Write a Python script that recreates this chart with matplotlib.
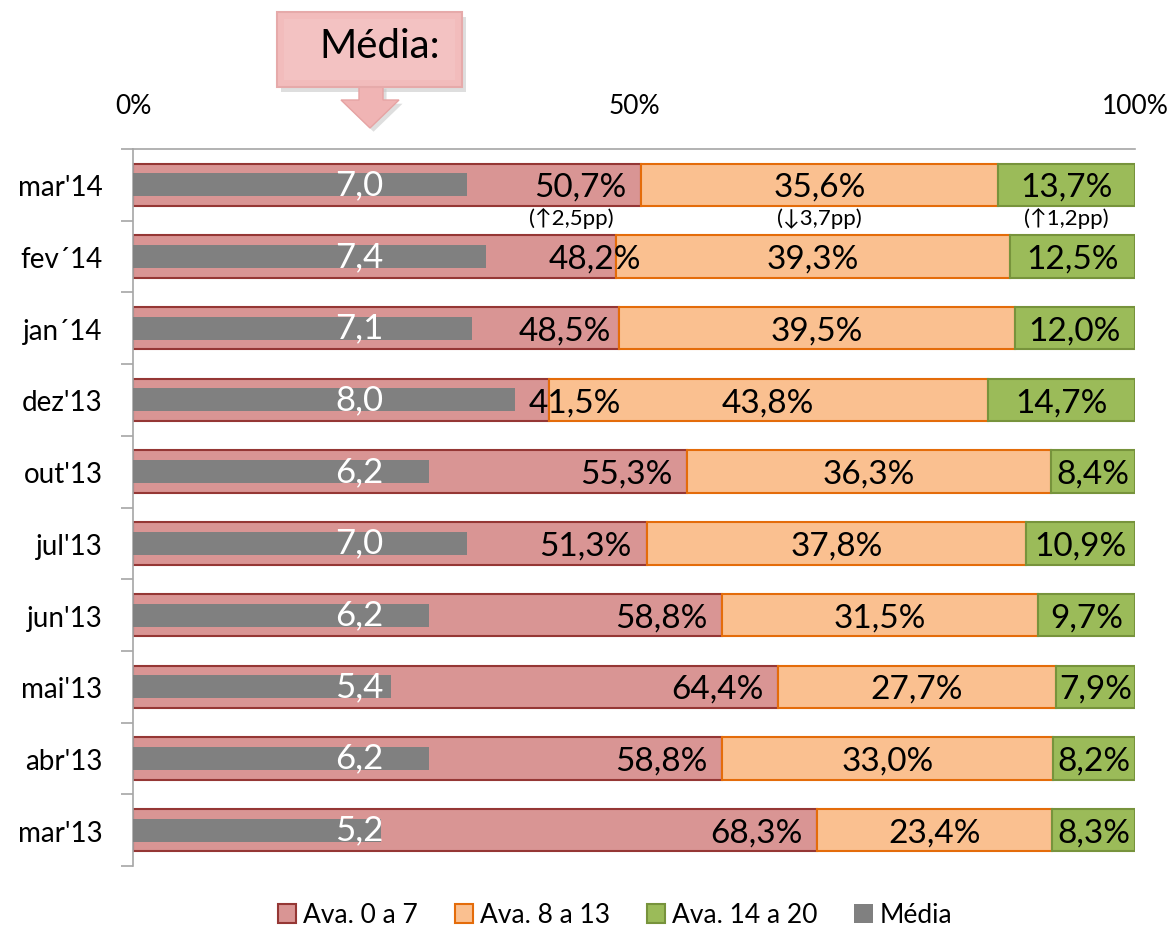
import matplotlib
matplotlib.use("Agg")
import matplotlib.pyplot as plt
from matplotlib.patches import Rectangle, Polygon
from matplotlib.ticker import FixedLocator

plt.rcParams['font.family'] = ['Lato', 'DejaVu Sans']

# ---------------- data ----------------
months = ["mar'14", "fev´14", "jan´14", "dez'13", "out'13",
          "jul'13", "jun'13", "mai'13", "abr'13", "mar'13"]
ava_0_7 = [50.7, 48.2, 48.5, 41.5, 55.3, 51.3, 58.8, 64.4, 58.8, 68.3]
ava_8_13 = [35.6, 39.3, 39.5, 43.8, 36.3, 37.8, 31.5, 27.7, 33.0, 23.4]
ava_14_20 = [13.7, 12.5, 12.0, 14.7, 8.4, 10.9, 9.7, 7.9, 8.2, 8.3]
media = [7.0, 7.4, 7.1, 8.0, 6.2, 7.0, 6.2, 5.4, 6.2, 5.2]
variation = ["(↑2,5pp)", "(↓3,7pp)", "(↑1,2pp)"]
x_ticks = [0, 50, 100]
x_tick_labels = ["0%", "50%", "100%"]
legend_labels = ["Ava. 0 a 7", "Ava. 8 a 13", "Ava. 14 a 20", "Média"]

# style
c_red, e_red = "#D99594", "#953735"
c_org, e_org = "#FAC090", "#E46C0A"
c_grn, e_grn = "#9BBB59", "#77933C"
c_gray = "#808080"
red_label_shift = {1: 4.0, 2: 0.7, 3: 8.7}   # manual label nudges (as in original)

def fmt(v):
    return f"{v:.1f}".replace(".", ",")

fig = plt.figure(figsize=(11.73, 9.29), dpi=100)
ax = fig.add_axes([133/1173, 1-867/929, 1002/1173, 717/929])

y = list(range(len(months)))
bh = 0.59
ax.barh(y, ava_0_7, height=bh, color=c_red, edgecolor=e_red, linewidth=1.5, zorder=2)
left2 = ava_0_7
ax.barh(y, ava_8_13, left=left2, height=bh, color=c_org, edgecolor=e_org, linewidth=1.5, zorder=2)
left3 = [a + b for a, b in zip(ava_0_7, ava_8_13)]
ax.barh(y, ava_14_20, left=left3, height=bh, color=c_grn, edgecolor=e_grn, linewidth=1.5, zorder=2)

ax.set_xlim(0, 100)
ax.set_ylim(len(months) - 0.5, -0.5)

ax2 = ax.twiny()
ax2.barh(y, media, height=0.32, color=c_gray, zorder=3)
ax2.set_xlim(0, 21)
ax2.set_ylim(len(months) - 0.5, -0.5)
ax2.axis('off')

# labels
for i in y:
    r = ava_0_7[i] - 1.5 + red_label_shift.get(i, 0)
    ax2.text(r, i + 0.03, fmt(ava_0_7[i]) + "%", transform=ax.transData,
             ha='right', va='center', fontsize=24, color='black', zorder=5)
    ax2.text(ava_0_7[i] + ava_8_13[i] / 2, i + 0.03, fmt(ava_8_13[i]) + "%",
             transform=ax.transData, ha='center', va='center', fontsize=24, zorder=5)
    ax2.text(left3[i] + ava_14_20[i] / 2, i + 0.03, fmt(ava_14_20[i]) + "%",
             transform=ax.transData, ha='center', va='center', fontsize=24, zorder=5)
    ax2.text(0.226 * 21, i - 0.01, fmt(media[i]), ha='center', va='center',
             fontsize=25, color='white', zorder=6)

# variation annotations under first row
var_x = [ava_0_7[0] - 7.0, ava_0_7[0] + ava_8_13[0] / 2, left3[0] + ava_14_20[0] / 2]
for xv, s in zip(var_x, variation):
    ax2.text(xv, 0.46, s, transform=ax.transData, ha='center', va='center',
             fontsize=16, zorder=5)

# axes styling
for s in ['right', 'bottom']:
    ax.spines[s].set_visible(False)
for s in ['left', 'top']:
    ax.spines[s].set_color('#A6A6A6')
    ax.spines[s].set_linewidth(1.2)
ax.xaxis.tick_top()
ax.set_xticks(x_ticks)
ax.set_xticklabels(x_tick_labels, fontsize=19)
ax.tick_params(axis='x', length=0, pad=22)
ax.set_yticks(y)
ax.set_yticklabels(months, fontsize=20)
ax.yaxis.set_minor_locator(FixedLocator([i - 0.5 for i in range(len(months) + 1)]))
ax.tick_params(axis='y', which='major', length=0, pad=22)
ax.tick_params(axis='y', which='minor', length=9, width=1.2, color='#A6A6A6', direction='out')

# legend
handles = [Rectangle((0, 0), 1, 1, facecolor=c_red, edgecolor=e_red, lw=1.5),
           Rectangle((0, 0), 1, 1, facecolor=c_org, edgecolor=e_org, lw=1.5),
           Rectangle((0, 0), 1, 1, facecolor=c_grn, edgecolor=e_grn, lw=1.5),
           Rectangle((0, 0), 1, 1, facecolor=c_gray, edgecolor=c_gray, lw=0)]
fig.legend(handles, legend_labels, loc='center', bbox_to_anchor=(615/1173, 1-916/929),
           ncol=4, frameon=False, fontsize=19, handlelength=0.7, handleheight=0.7,
           handletextpad=0.25, columnspacing=1.4)

# callout "Média:"
def fx(px):
    return px / 1173
def fy(py):
    return 1 - py / 929

shadow = Rectangle((fx(281), fy(93)), fx(462) - fx(277), fy(13) - fy(88),
                   transform=fig.transFigure, facecolor='#C8C8C8', edgecolor='none', alpha=0.6)
fig.add_artist(shadow)
arrow_pts = [(370, 129), (341, 101), (359, 101), (359, 86), (383, 86), (383, 101), (399, 101)]
fig.add_artist(Polygon([(fx(a) + 0.003, fy(b) - 0.004) for a, b in arrow_pts], closed=True,
                       transform=fig.transFigure, facecolor='#C8C8C8', edgecolor='none', alpha=0.6))
fig.add_artist(Polygon([(fx(a), fy(b)) for a, b in arrow_pts], closed=True,
                       transform=fig.transFigure, facecolor='#F0B4B4', edgecolor='#E6A3A3', lw=1))
box = Rectangle((fx(277), fy(88)), fx(462) - fx(277), fy(13) - fy(88),
                transform=fig.transFigure, facecolor='#F2BCBC', edgecolor='#E6AAAA', lw=1.5)
fig.add_artist(box)
inner = Rectangle((fx(284), fy(81)), fx(455) - fx(284), fy(20) - fy(81),
                  transform=fig.transFigure, facecolor='#F3C2C2', edgecolor='none')
fig.add_artist(inner)
fig.text(fx(380), fy(47), "Média:", ha='center', va='center', fontsize=29)

fig.savefig("out.png", dpi=100)
